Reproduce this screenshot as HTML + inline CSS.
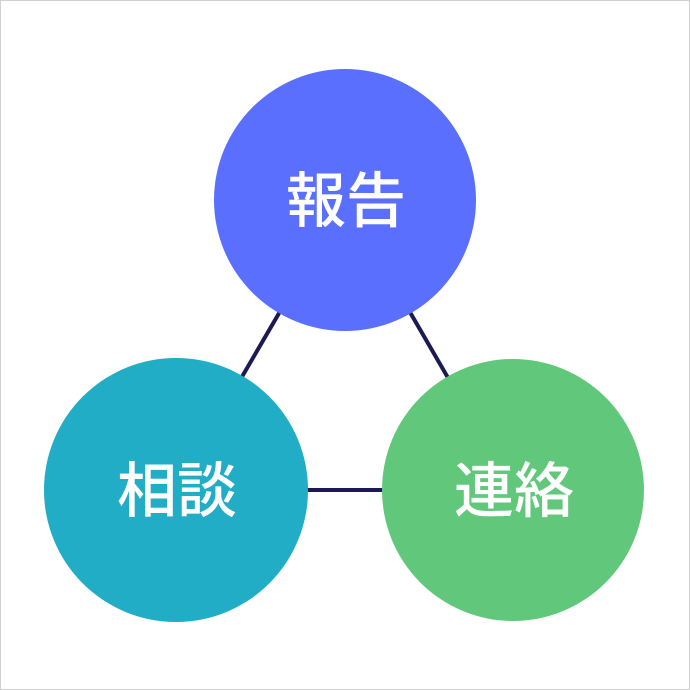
<!DOCTYPE html>
<html><head><meta charset="utf-8"><style>
html,body{margin:0;padding:0;background:#fff}
svg{display:block}
text{font-family:"Liberation Sans","Noto Sans CJK JP",sans-serif;font-weight:500;fill:#fff}
</style></head><body>
<svg width="690" height="690" viewBox="0 0 690 690">
<rect x="0.5" y="0.5" width="689" height="689" fill="#fff" stroke="#d0d0d0"/>
<g stroke="#1c1a52" stroke-width="4">
<line x1="345" y1="200" x2="176" y2="490"/>
<line x1="345" y1="200" x2="513" y2="490"/>
<line x1="176" y1="490" x2="513" y2="490"/>
</g>
<circle cx="345" cy="200" r="131" fill="#5a6ffe"/>
<circle cx="176" cy="490" r="132" fill="#22adc7"/>
<circle cx="513" cy="490" r="131" fill="#61c87b"/>
<text x="346" y="222" font-size="60" text-anchor="middle">報告</text>
<text x="177" y="512" font-size="60" text-anchor="middle">相談</text>
<text x="514" y="512" font-size="60" text-anchor="middle">連絡</text>
</svg>
</body></html>
